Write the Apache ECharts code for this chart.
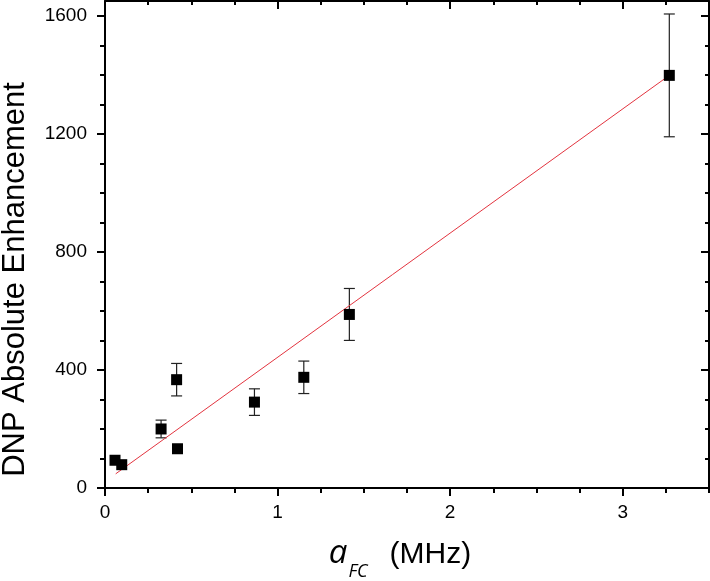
<!DOCTYPE html>
<html><head><meta charset="utf-8">
<script src="https://cdn.jsdelivr.net/npm/echarts@6/dist/echarts.min.js"></script>
<style>html,body{margin:0;padding:0;background:#fff}#c{width:710px;height:581px}</style>
</head><body><div id="c"></div>
<script>
const xValues = [0.058, 0.097, 0.325, 0.415, 0.42, 0.866, 1.152, 1.416, 3.27];
const yValues = [94, 79, 200, 367, 133, 291, 375, 588, 1398];
const yErrors = [0, 0, 30, 55, 0, 45, 55, 88, 208];
const fitX = [0.062, 3.27];
const fitY = [48, 1398];
const xMajorTicks = [0, 1, 2, 3];
const xMinorTicks = [0.25, 0.5, 0.75, 1.25, 1.5, 1.75, 2.25, 2.5, 2.75, 3.25, 3.5];
const yMajorTicks = [0, 400, 800, 1200, 1600];
const yMinorTicks = [100, 200, 300, 500, 600, 700, 900, 1000, 1100, 1300, 1400, 1500];

const FONT = 'Liberation Sans, Arial, sans-serif';
const BLACK = '#000';
const plain = v => String(v);

function mkAxis(opts) {
  return Object.assign({
    type: 'value', gridIndex: 0,
    splitLine: { show: false },
    axisLine: { show: false, onZero: false, lineStyle: { color: BLACK, width: 2 } },
    axisLabel: { show: false },
    axisTick: { show: true },
    silent: true
  }, opts);
}

const xLim = { min: 0, max: 3.5 };
const yLim = { min: 0, max: 1650 };

const xAxes = [
  mkAxis(Object.assign({}, xLim, {
    position: 'bottom',
    axisLine: { show: true, onZero: false, lineStyle: { color: BLACK, width: 2 } },
    axisTick: { inside: false, length: 8, customValues: xMajorTicks, lineStyle: { color: BLACK, width: 2 } },
    axisLabel: { show: true, customValues: xMajorTicks, formatter: plain, fontSize: 19, margin: 15, color: BLACK, fontFamily: FONT },
    name: '{a|a}{s|FC}{n|(MHz)}',
    nameLocation: 'middle',
    nameGap: 47,
    nameTextStyle: {
      rich: {
        a: { fontSize: 33, fontStyle: 'italic', fontFamily: 'Open Sans', color: BLACK, verticalAlign: 'top', padding: [2, 0, 0, 0] },
        s: { fontSize: 18, fontStyle: 'italic', fontFamily: 'Open Sans', color: BLACK, verticalAlign: 'top', padding: [28, 0, 0, 1] },
        n: { fontSize: 30, fontFamily: FONT, color: BLACK, verticalAlign: 'top', padding: [5, 14, 0, 22] }
      }
    }
  })),
  mkAxis(Object.assign({}, xLim, {
    position: 'bottom',
    axisTick: { inside: false, length: 5, customValues: xMinorTicks, lineStyle: { color: BLACK, width: 2 } }
  })),
  mkAxis(Object.assign({}, xLim, {
    position: 'top',
    axisLine: { show: true, onZero: false, lineStyle: { color: BLACK, width: 2 } },
    axisTick: { inside: true, length: 8, customValues: xMajorTicks, lineStyle: { color: BLACK, width: 2 } }
  })),
  mkAxis(Object.assign({}, xLim, {
    position: 'top',
    axisTick: { inside: true, length: 4, customValues: xMinorTicks, lineStyle: { color: BLACK, width: 2 } }
  }))
];

const yAxes = [
  mkAxis(Object.assign({}, yLim, {
    position: 'left',
    axisLine: { show: true, onZero: false, lineStyle: { color: BLACK, width: 2 } },
    axisTick: { inside: false, length: 8, customValues: yMajorTicks, lineStyle: { color: BLACK, width: 2 } },
    axisLabel: { show: true, customValues: yMajorTicks, formatter: plain, fontSize: 19, margin: 18, color: BLACK, fontFamily: FONT },
    name: 'DNP Absolute Enhancement',
    nameLocation: 'middle',
    nameGap: 74,
    nameTextStyle: { fontSize: 31, fontFamily: FONT, color: BLACK, padding: [0, 70, 0, 0] }
  })),
  mkAxis(Object.assign({}, yLim, {
    position: 'left',
    axisTick: { inside: false, length: 5, customValues: yMinorTicks, lineStyle: { color: BLACK, width: 2 } }
  })),
  mkAxis(Object.assign({}, yLim, {
    position: 'right',
    axisLine: { show: true, onZero: false, lineStyle: { color: BLACK, width: 2 } },
    axisTick: { inside: true, length: 8, customValues: yMajorTicks, lineStyle: { color: BLACK, width: 2 } }
  })),
  mkAxis(Object.assign({}, yLim, {
    position: 'right',
    axisTick: { inside: true, length: 4, customValues: yMinorTicks, lineStyle: { color: BLACK, width: 2 } }
  }))
];

const points = xValues.map((x, i) => [x, yValues[i], yErrors[i]]);
const fitLine = fitX.map((x, i) => [x, fitY[i]]);

const chart = echarts.init(document.getElementById('c'), null, { renderer: 'canvas' });
chart.setOption({
  animation: false,
  backgroundColor: '#fff',
  grid: { left: 105, right: 1, top: 1, bottom: 93, containLabel: false, outerBoundsMode: 'none' },
  xAxis: xAxes,
  yAxis: yAxes,
  series: [
    {
      type: 'custom',
      xAxisIndex: 0, yAxisIndex: 0,
      z: 2,
      silent: true,
      data: points,
      renderItem: function (params, api) {
        const x = api.value(0), y = api.value(1), e = api.value(2);
        if (!e) return null;
        const top = api.coord([x, y + e]);
        const bot = api.coord([x, y - e]);
        const hw = 5.5;
        const st = { stroke: '#222', lineWidth: 1.2 };
        return {
          type: 'group',
          children: [
            { type: 'line', shape: { x1: top[0], y1: top[1], x2: bot[0], y2: bot[1] }, style: st },
            { type: 'line', shape: { x1: top[0] - hw, y1: top[1], x2: top[0] + hw, y2: top[1] }, style: st },
            { type: 'line', shape: { x1: bot[0] - hw, y1: bot[1], x2: bot[0] + hw, y2: bot[1] }, style: st }
          ]
        };
      }
    },
    {
      type: 'line',
      xAxisIndex: 0, yAxisIndex: 0,
      z: 3,
      data: fitLine,
      symbol: 'none',
      silent: true,
      lineStyle: { color: '#e3343f', width: 1 }
    },
    {
      type: 'scatter',
      xAxisIndex: 0, yAxisIndex: 0,
      z: 4,
      data: points.map(p => [p[0], p[1]]),
      symbol: 'rect',
      symbolSize: 11,
      silent: true,
      itemStyle: { color: '#000', opacity: 1 }
    }
  ]
});
</script>
</body></html>
